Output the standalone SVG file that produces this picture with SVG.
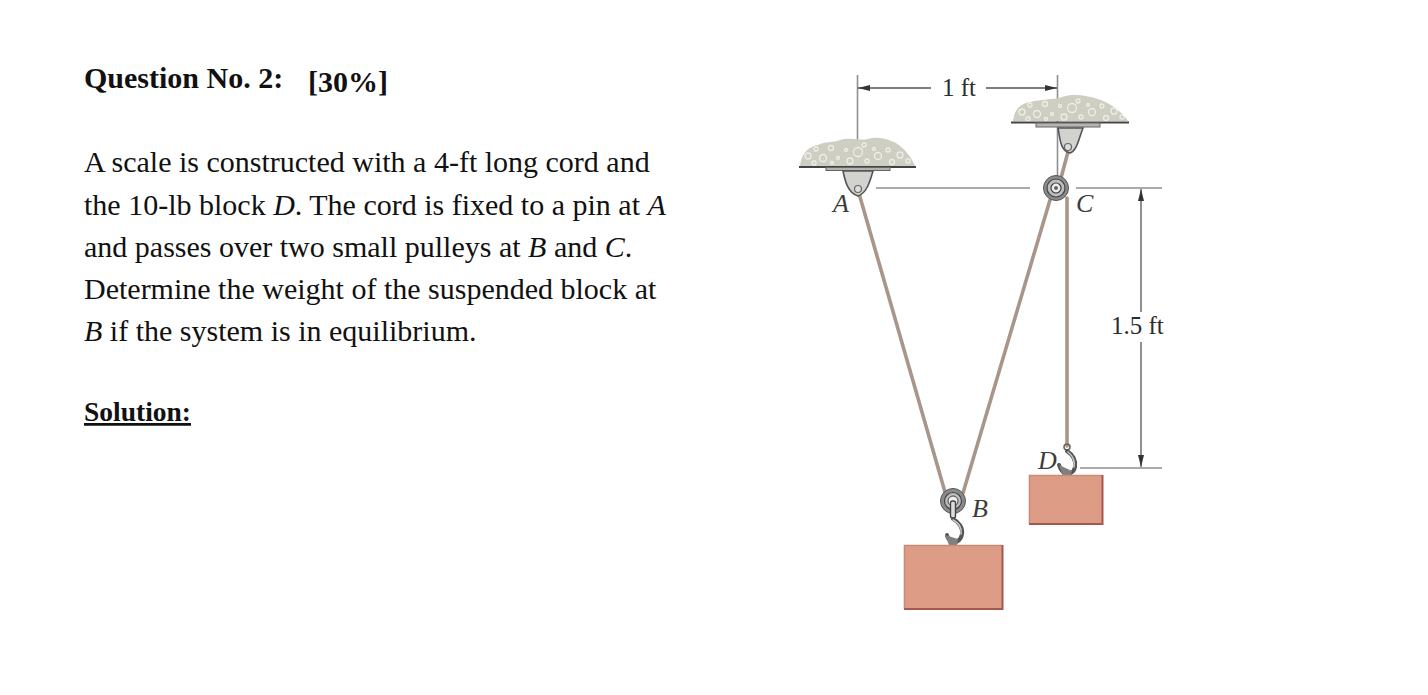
<svg xmlns="http://www.w3.org/2000/svg" width="1428" height="695" viewBox="0 0 1428 695">
<style>
.t{font-family:"Liberation Serif","Times New Roman",serif;font-size:30px;fill:#111}
.b{font-weight:bold}
.i{font-style:italic}
.l{font-family:"Liberation Serif","Times New Roman",serif;font-size:25px;fill:#2c2c2c}
.li{font-style:italic;fill:#3c3c3c;font-size:26px}
.dim{stroke:#8f8f8f;stroke-width:1.6;fill:none}
.dimk{stroke:#555;stroke-width:1.3;fill:none}
.plate{stroke:#444;stroke-width:2;fill:none}
.sp{fill:#b5b5b0;stroke:#666;stroke-width:1}
.br{fill:#d2d2ce;stroke:#555;stroke-width:1.6}
.cord{stroke:#a8968a;stroke-width:3.6;fill:none;stroke-linecap:round}
.pile{fill:#cfcec3}
.grain{fill:none;stroke:#efeee6;stroke-width:1.3}
.block{stroke:none}
.edge{fill:none;stroke:#a5584f;stroke-width:2}
.edge2{fill:none;stroke:#c98a78;stroke-width:1.6}
.hook{fill:none;stroke:#555;stroke-width:4;stroke-linecap:round}
.hook2{fill:none;stroke:#c8c8c4;stroke-width:1.6;stroke-linecap:round}
.soft{filter:url(#blur)}
</style>
<defs>
<filter id="blur" x="-5%" y="-5%" width="110%" height="110%"><feGaussianBlur stdDeviation="0.6"/></filter>
<marker id="ah" viewBox="0 0 12 6" refX="12" refY="3" markerWidth="12" markerHeight="6" orient="auto-start-reverse" markerUnits="userSpaceOnUse"><path d="M0 0L12 3L0 6Z" fill="#333"/></marker>
<g id="grains">
<circle cx="6" cy="15" r="3"/><circle cx="14" cy="8" r="2"/><circle cx="21" cy="17" r="3.500"/><circle cx="29" cy="7" r="2.500"/><circle cx="36" cy="17" r="1.500"/><circle cx="44" cy="9" r="1.500"/><circle cx="48" cy="20" r="3"/><circle cx="56" cy="11" r="4.500"/><circle cx="65" cy="20" r="2"/><circle cx="72" cy="8" r="1.500"/><circle cx="76" cy="15" r="3.500"/><circle cx="86" cy="9" r="2"/><circle cx="90" cy="21" r="2.500"/><circle cx="98" cy="14" r="3"/><circle cx="106" cy="20" r="2"/><circle cx="30" cy="22" r="1.500"/><circle cx="12" cy="22" r="2"/><circle cx="62" cy="4" r="2"/>
</g>
</defs>
<rect width="1428" height="695" fill="#fff"/>

<g id="question-text">
<text class="t b" x="84" y="88">Question No. 2:</text>
<text class="t b" x="308" y="92">[30%]</text>
<text class="t" x="84" y="172">A scale is constructed with a 4-ft long cord and</text>
<text class="t" x="84" y="215">the 10-lb block <tspan class="i">D</tspan>. The cord is fixed to a pin at <tspan class="i">A</tspan></text>
<text class="t" x="84" y="257">and passes over two small pulleys at <tspan class="i">B</tspan> and <tspan class="i">C</tspan>.</text>
<text class="t" x="84" y="299">Determine the weight of the suspended block at</text>
<text class="t" x="84" y="341"><tspan class="i">B</tspan> if the system is in equilibrium.</text>
<text class="t b" x="84" y="421" style="text-decoration:underline;font-size:27.500px">Solution:</text>
</g>

<g id="connectors">
<path class="cord" d="M858 190L945 492"/>
<path class="cord" d="M1050 200L963 493"/>
<path class="cord" d="M1067 198V446"/>
<path class="cord" d="M1069 148L1061 178"/>
<path class="dim" d="M857.500 75V143"/>
<path class="dim" d="M1057.500 75V180"/>
<path class="dim" d="M876 188H1030"/>
<path class="dim" d="M1076 188H1162"/>
<path class="dim" d="M1080 468H1162"/>
<path class="dimk" d="M858 88H931" marker-start="url(#ah)"/>
<path class="dimk" d="M986 88H1057" marker-end="url(#ah)"/>
<path class="dimk" d="M1141 189V312" marker-start="url(#ah)"/>
<path class="dimk" d="M1141 342V467" marker-end="url(#ah)"/>
</g>

<g id="support-a">
<path class="pile soft" d="M800 166C801 156 806 147 818 145C826 141 832 143 840 140C850 137 860 141 868 139C878 136 888 139 896 143C905 149 912 158 915 166Z"/>
<use href="#grains" x="802" y="141" class="grain"/>
<path class="plate" d="M799 167H916"/>
<rect class="sp" x="826" y="167.500" width="64" height="3"/>
<path class="br" d="M843 171C845 181 848 193 858 196C867 193 870 181 873 171Z"/>
<circle cx="858" cy="189" r="3.500" fill="#ddd" stroke="#666" stroke-width="1.200"/>
</g>

<g id="support-c">
<path class="pile soft" d="M1013 121C1014 112 1018 104 1030 102C1042 99 1052 100 1062 97C1074 93 1088 96 1098 99C1112 104 1122 112 1128 121Z"/>
<use href="#grains" x="1016" y="97" class="grain"/>
<path class="plate" d="M1011 122.500H1129"/>
<rect class="sp" x="1036" y="123" width="64" height="4"/>
<path class="br" d="M1058 128C1060 138 1060 151 1070 153C1077 151 1079 138 1083 128Z"/>
<circle cx="1068" cy="147" r="3.500" fill="#ddd" stroke="#666" stroke-width="1.200"/>
</g>

<g id="pulley-c">
<circle cx="1056" cy="188" r="12.500" fill="#8b8b8b" stroke="#555" stroke-width="1"/>
<circle cx="1056" cy="188" r="9" fill="#bdbdbd" stroke="#444" stroke-width="1.200"/>
<circle cx="1056" cy="188" r="5" fill="#eee" stroke="#444" stroke-width="1.200"/>
<circle cx="1056" cy="188" r="2" fill="#666"/>
</g>

<g id="pulley-b">
<circle cx="953" cy="501" r="12.500" fill="#8b8b8b" stroke="#555" stroke-width="1"/>
<circle cx="953" cy="501" r="8.500" fill="#bdbdbd" stroke="#444" stroke-width="1.200"/>
<circle cx="953" cy="501" r="5" fill="#eee" stroke="#444" stroke-width="1"/>
<rect x="950.500" y="501" width="5" height="17" rx="2" fill="#ddd" stroke="#444" stroke-width="1.400"/>
</g>

<g id="block-b">
<path class="hook" d="M953 519C959 522 963 528 962 534C961 541 955 544 951 541C948 539 947 537 947 535"/>
<path class="hook2" d="M953 520C959 523 962 528 961 534"/>
<path d="M945 535L958 539L957 545H949Z" fill="#808080"/>
<rect class="block" x="904" y="545" width="99" height="64" fill="#dd9c86"/>
<path class="edge2" d="M904.500 609V545.500H1002"/>
<path class="edge" d="M1002.500 545V609H904"/>
</g>

<g id="block-d">
<circle cx="1067" cy="447" r="3" fill="none" stroke="#666" stroke-width="1.500"/>
<path class="hook" d="M1067 451C1073 455 1076 461 1075 467C1074 473 1067 476 1063 472C1061 470 1060 468 1059 465"/>
<path class="hook2" d="M1068 452C1073 456 1075 461 1074 467"/>
<path d="M1059 465L1072 471L1070 476H1063Z" fill="#808080"/>
<rect class="block" x="1029" y="475" width="74" height="49" fill="#dd9c86"/>
<path class="edge2" d="M1029.500 524V475.500H1102"/>
<path class="edge" d="M1102.500 475V524H1029"/>
</g>

<g id="labels">
<text class="l" x="942" y="96">1 ft</text>
<text class="l" x="1111" y="334">1.5 ft</text>
<text class="l li" x="833" y="212">A</text>
<text class="l li" x="1076" y="212">C</text>
<text class="l li" x="1038" y="469">D</text>
<text class="l li" x="972" y="517">B</text>
</g>
</svg>
